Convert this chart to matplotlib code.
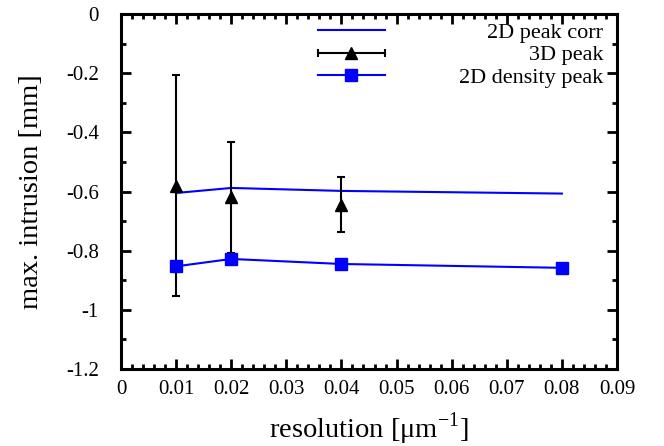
import matplotlib
matplotlib.use("Agg")
import matplotlib.pyplot as plt
from matplotlib.lines import Line2D
from matplotlib.legend_handler import HandlerLine2D, HandlerTuple

plt.rcParams['font.family'] = ['Liberation Serif', 'DejaVu Serif']
plt.rcParams['mathtext.fontset'] = 'custom'
plt.rcParams['mathtext.rm'] = 'Liberation Serif'
plt.rcParams['axes.unicode_minus'] = False

# data
res = [0.01, 0.02, 0.04, 0.08]
peak_corr = [-0.605, -0.588, -0.598, -0.607]
res_3d = [0.01, 0.02, 0.04]
peak_3d = [-0.58, -0.619, -0.644]
peak_3d_err = [0.373, 0.188, 0.094]
density_peak = [-0.853, -0.828, -0.845, -0.858]

labels = ['2D peak corr', '3D peak', '2D density peak']
xticks = [0, 0.01, 0.02, 0.03, 0.04, 0.05, 0.06, 0.07, 0.08, 0.09]
xticklabels = ['0', '0.01', '0.02', '0.03', '0.04', '0.05', '0.06', '0.07', '0.08', '0.09']
yticks = [-1.2, -1.0, -0.8, -0.6, -0.4, -0.2, 0.0]
yticklabels = ['-1.2', '-1', '-0.8', '-0.6', '-0.4', '-0.2', '0']

fig = plt.figure(figsize=(6.64, 4.46), dpi=100)
ax = fig.add_axes([121/664, 1 - 369/446, 496/664, 355/446])

blue = '#0000ff'
ax.plot(res, peak_corr, color=blue, lw=1.5, zorder=3)
ax.errorbar(res_3d, peak_3d, yerr=peak_3d_err, color='black', lw=1.5, ls='none',
            marker='^', markersize=8, capsize=3, capthick=1.5, elinewidth=1.5, zorder=4)
ax.plot(res, density_peak, color=blue, lw=1.5, marker='s', markersize=9, zorder=5)

ax.set_xlim(0, 0.09)
ax.set_ylim(-1.2, 0)
ax.set_xticks(xticks)
ax.set_xticklabels(xticklabels)
ax.set_yticks(yticks)
ax.set_yticklabels(yticklabels)
ax.set_xticks([i * 0.002 for i in range(46)], minor=True)
ax.set_yticks([-1.1, -0.9, -0.7, -0.5, -0.3, -0.1], minor=True)
ax.tick_params(which='both', direction='in', top=True, right=True, width=2, labelsize=15)
ax.tick_params(which='major', length=7)
ax.tick_params(which='minor', length=3.5)
ax.tick_params(axis='x', which='major', pad=8)
ax.tick_params(axis='y', which='major', pad=16)
for s in ax.spines.values():
    s.set_linewidth(2.2)

ax.set_xlabel('resolution [μm$^{-1}$]', fontsize=20.5, labelpad=8)
ax.set_ylabel('max. intrusion [mm]', fontsize=20.5, labelpad=16)

# legend: samples on the left, right-justified text
h_corr = Line2D([], [], color=blue, lw=1.5)
h_3d_bar = Line2D([], [], color='black', lw=1.5, marker='|', markersize=6, markeredgewidth=1.5)
h_3d_mk = Line2D([], [], color='black', ls='none', marker='^', markersize=8)
h_dens = Line2D([], [], color=blue, lw=1.5, marker='s', markersize=9)
hmap = {tuple: HandlerTuple(ndivide=1),
        h_3d_bar: HandlerLine2D(numpoints=2, marker_pad=0)}
common = dict(frameon=False, fontsize=16, labelspacing=0.1, borderpad=0, borderaxespad=0)
legA = ax.legend([h_corr, (h_3d_bar, h_3d_mk), h_dens], ['', '', ''], handler_map=hmap,
                 loc='upper left', bbox_to_anchor=(0.397, 0.977), handlelength=3.0,
                 handletextpad=0, **common)
ax.add_artist(legA)
inv = [Line2D([], [], alpha=0) for _ in labels]
legB = ax.legend(inv, labels, loc='upper right', bbox_to_anchor=(0.972, 0.977),
                 handlelength=0, handletextpad=0, markerfirst=False, **common)

fig.savefig('out.png', dpi=100)
